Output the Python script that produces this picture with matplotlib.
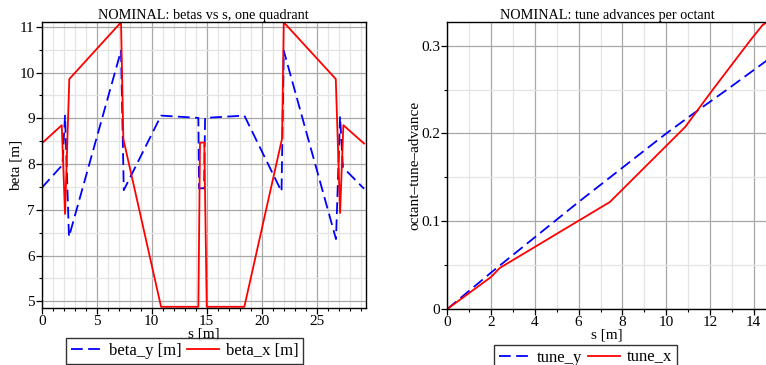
import matplotlib
matplotlib.use("Agg")
import matplotlib.pyplot as plt
from matplotlib.ticker import MultipleLocator, FuncFormatter

plt.rcParams['font.family'] = ['Liberation Serif', 'DejaVu Serif']

# ---- left panel data: betas vs s ----
s_bx = [0.0, 1.82, 2.12, 2.51, 7.21, 7.42, 10.85, 14.24, 14.39, 14.78, 15.00,
        18.42, 21.85, 22.00, 26.73, 27.12, 27.42, 29.30]
beta_x = [8.45, 8.85, 6.91, 9.86, 11.10, 8.55, 4.88, 4.88, 8.47, 8.47, 4.88,
          4.88, 8.56, 11.10, 9.86, 6.93, 8.85, 8.45]

s_by = [0.0, 1.88, 2.12, 2.48, 7.21, 7.46, 10.85, 14.24, 14.30, 14.76, 14.85,
        18.42, 21.80, 22.00, 26.75, 27.12, 27.38, 29.30]
beta_y = [7.48, 7.98, 9.06, 6.41, 10.48, 7.43, 9.06, 9.01, 7.47, 7.47, 9.01,
          9.06, 7.40, 10.48, 6.36, 9.04, 7.93, 7.46]

# ---- right panel data: tune advances per octant ----
s_tx = [0.0, 2.0, 2.4, 7.43, 10.87, 12.1, 13.85, 14.24, 14.40, 14.62]
tune_x = [0.0, 0.0365, 0.0468, 0.122, 0.2075, 0.249, 0.3064, 0.3185, 0.3235, 0.3272]

s_ty = [0.0, 2.0, 6.0, 10.0, 11.25, 12.79, 14.62]
tune_y = [0.0, 0.0415, 0.122, 0.200, 0.2228, 0.2502, 0.2836]

W, H = 766, 365
fig = plt.figure(figsize=(W / 100, H / 100), dpi=100)

def style(ax):
    ax.grid(True, which='major', color='#a8a8a8', lw=0.9, zorder=0)
    ax.grid(True, which='minor', color='#e4e4e4', lw=0.9, zorder=0)
    ax.set_axisbelow(True)
    ax.tick_params(which='both', direction='out', labelsize=11, top=False, right=False, colors='black')
    ax.tick_params(which='major', length=4, width=0.9, pad=1)
    ax.tick_params(which='minor', length=2.5, width=0.8)
    for sp in ax.spines.values():
        sp.set_linewidth(1.0)
        sp.set_color('black')

def legend(ax, x, ytop):
    lg = ax.legend(loc='upper center', bbox_to_anchor=(x / W, (H - ytop) / H),
                   bbox_transform=fig.transFigure, ncol=2, frameon=True, fancybox=False,
                   edgecolor='black', fontsize=12, borderaxespad=0, handlelength=1.9,
                   columnspacing=0.35, handletextpad=0.4, borderpad=0.3)
    lg.get_frame().set_linewidth(1.0)
    return lg

# left axes
ax1 = fig.add_axes([41.7 / W, (H - 307.7) / H, 324 / W, 285.4 / H])
ax1.plot(s_by, beta_y, color='#0000ff', lw=1.3, dashes=(6.5, 3), label='beta_y [m]')
ax1.plot(s_bx, beta_x, color='#ff0000', lw=1.3, label='beta_x [m]')
ax1.set_xlim(0, 29.45)
ax1.set_ylim(4.86, 11.1)
ax1.xaxis.set_major_locator(MultipleLocator(5))
ax1.xaxis.set_minor_locator(MultipleLocator(1))
ax1.yaxis.set_major_locator(MultipleLocator(1))
ax1.yaxis.set_minor_locator(MultipleLocator(0.5))
style(ax1)
ax1.set_title('NOMINAL: betas vs s, one quadrant', fontsize=10.3, pad=2)
ax1.set_xlabel('s [m]', fontsize=11, labelpad=0)
ax1.set_ylabel('beta [m]', fontsize=11, labelpad=-2)
legend(ax1, 184.5, 337.7)

# right axes
ax2 = fig.add_axes([447.3 / W, (H - 309) / H, 320 / W, 287.3 / H])
ax2.plot(s_ty, tune_y, color='#0000ff', lw=1.3, dashes=(6.5, 3), label='tune_y')
ax2.plot(s_tx, tune_x, color='#ff0000', lw=1.3, label='tune_x')
ax2.set_xlim(0, 14.62)
ax2.set_ylim(0, 0.3274)
ax2.xaxis.set_major_locator(MultipleLocator(2))
ax2.xaxis.set_minor_locator(MultipleLocator(1))
ax2.yaxis.set_major_locator(MultipleLocator(0.1))
ax2.yaxis.set_minor_locator(MultipleLocator(0.05))
ax2.yaxis.set_major_formatter(FuncFormatter(lambda v, p: '0' if abs(v) < 1e-9 else f'{v:.1f}'))
style(ax2)
ax2.set_title('NOMINAL: tune advances per octant', fontsize=10.3, pad=2)
ax2.set_xlabel('s [m]', fontsize=11, labelpad=0)
ax2.set_ylabel('octant–tune–advance', fontsize=11, labelpad=0)
legend(ax2, 585.2, 344.5)

fig.savefig('out.png', dpi=100)
